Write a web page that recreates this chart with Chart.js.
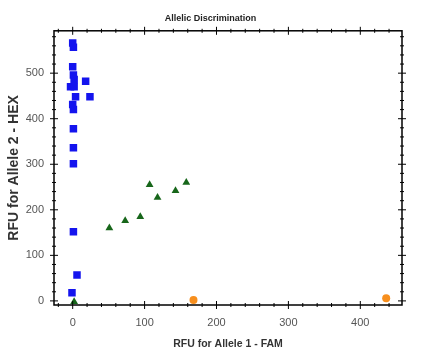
<!DOCTYPE html>
<html>
<head>
<meta charset="utf-8">
<script src="https://cdn.jsdelivr.net/npm/chart.js@4.4.0/dist/chart.umd.min.js"></script>
<style>
  body { margin: 0; background: #fff; }
  canvas { display: block; }
</style>
</head>
<body>
<canvas id="allelicChart" width="421" height="361"></canvas>
<script>
// axis ticks
var xTicks = [0, 100, 200, 300, 400];
var yTicks = [0, 100, 200, 300, 400, 500];

// allele 2 (blue squares)
var blueX = [0, 1, 0, 1, 2, 18, -3, 2, 4, 24, 0, 1, 1, 1, 1, 1, 6, -1];
var blueY = [566, 557, 514, 496, 486, 482, 470, 470, 448, 448, 431, 420, 378, 336, 301, 152, 57, 18];

// heterozygous (green triangles)
var greenX = [2, 51, 73, 94, 107, 118, 143, 158];
var greenY = [-2, 160, 176, 185, 255, 227, 242, 260];

// allele 1 (orange circles)
var orangeX = [168, 436];
var orangeY = [2, 6];

function toPoints(xs, ys) {
  var arr = [];
  for (var i = 0; i < xs.length; i++) {
    arr.push({ x: xs[i], y: ys[i] });
  }
  return arr;
}

function fixedTicks(list) {
  return function (scale) {
    scale.ticks = list.map(function (v) { return { value: v }; });
  };
}

// frame with ticks crossing each side
var framePlugin = {
  id: "frame",
  afterDraw: function (chart) {
    var ctx = chart.ctx;
    var a = chart.chartArea;
    var xs = chart.scales.x;
    var ys = chart.scales.y;
    ctx.save();
    ctx.strokeStyle = "#000";
    ctx.lineWidth = 1.5;
    ctx.strokeRect(a.left, a.top, a.right - a.left, a.bottom - a.top);

    ctx.lineWidth = 1;
    var v, p, len;
    for (v = -20; v <= xs.max; v += 20) {
      p = xs.getPixelForValue(v);
      len = v % 100 === 0 ? 4 : 2;
      ctx.beginPath();
      ctx.moveTo(p, a.bottom - len);
      ctx.lineTo(p, a.bottom + len);
      ctx.moveTo(p, a.top - len);
      ctx.lineTo(p, a.top + len);
      ctx.stroke();
    }
    for (v = 0; v <= ys.max; v += 20) {
      p = ys.getPixelForValue(v);
      len = v % 100 === 0 ? 4 : 2;
      ctx.beginPath();
      ctx.moveTo(a.left - len, p);
      ctx.lineTo(a.left + len, p);
      ctx.moveTo(a.right - len, p);
      ctx.lineTo(a.right + len, p);
      ctx.stroke();
    }
    ctx.restore();
  },
};

var tickFont = { family: "'Liberation Sans', Arial, sans-serif", size: 11 };

new Chart(document.getElementById("allelicChart").getContext("2d"), {
  type: "scatter",
  data: {
    datasets: [
      {
        label: "Allele 1",
        data: toPoints(orangeX, orangeY),
        pointStyle: "circle",
        pointRadius: 4,
        backgroundColor: "#f78f1e",
        borderColor: "#f78f1e",
        borderWidth: 0,
      },
      {
        label: "Heterozygous",
        data: toPoints(greenX, greenY),
        pointStyle: "triangle",
        pointRadius: 4.5,
        backgroundColor: "#17661a",
        borderColor: "#17661a",
        borderWidth: 0,
      },
      {
        label: "Allele 2",
        data: toPoints(blueX, blueY),
        pointStyle: "rect",
        pointRadius: 5.3,
        backgroundColor: "#1414ee",
        borderColor: "#1414ee",
        borderWidth: 0,
      },
    ],
  },
  options: {
    responsive: false,
    animation: false,
    layout: { padding: 0 },
    plugins: {
      legend: { display: false },
      tooltip: { enabled: false },
      title: {
        display: true,
        text: "Allelic Discrimination",
        color: "#222",
        font: { family: "'Liberation Sans', Arial, sans-serif", size: 9, weight: "bold" },
        padding: { top: 13, bottom: 7 },
      },
    },
    scales: {
      x: {
        type: "linear",
        position: "bottom",
        min: -26,
        max: 458,
        afterBuildTicks: fixedTicks(xTicks),
        afterFit: function (s) { s.height = 56; },
        grid: { display: false, drawTicks: false },
        border: { display: false },
        ticks: { color: "#555", font: tickFont, padding: 11 },
        title: {
          display: true,
          text: "RFU for Allele 1 - FAM",
          color: "#333",
          font: { family: "'Liberation Sans', Arial, sans-serif", size: 10.5, weight: "bold" },
          padding: { top: 0, bottom: 11 },
        },
      },
      y: {
        type: "linear",
        position: "left",
        min: -9,
        max: 593,
        afterBuildTicks: fixedTicks(yTicks),
        afterFit: function (s) { s.width = 54; },
        grid: { display: false, drawTicks: false },
        border: { display: false },
        ticks: { color: "#555", font: tickFont, padding: 10 },
        title: {
          display: true,
          text: "RFU for Allele 2 - HEX",
          color: "#333",
          font: { family: "'Liberation Sans', Arial, sans-serif", size: 14, weight: "bold" },
          padding: { top: 6, bottom: 0 },
        },
      },
      y2: {
        type: "linear",
        position: "right",
        min: -9,
        max: 593,
        afterFit: function (s) { s.width = 19; },
        grid: { display: false, drawTicks: false },
        border: { display: false },
        ticks: { display: false },
      },
    },
  },
  plugins: [framePlugin],
});
</script>
</body>
</html>
